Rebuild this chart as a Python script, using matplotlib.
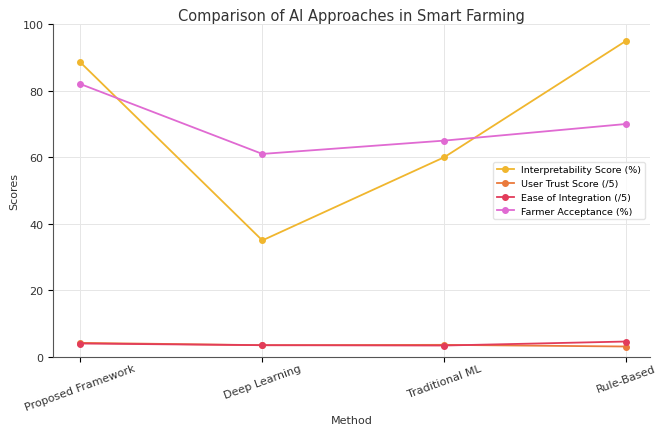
import matplotlib
matplotlib.use("Agg")
import matplotlib.pyplot as plt

methods = ["Proposed Framework", "Deep Learning", "Traditional ML", "Rule-Based"]
interpretability = [88.5, 35, 60, 95]
user_trust = [4.2, 3.5, 3.6, 3.1]
ease = [4.0, 3.5, 3.4, 4.6]
farmer = [82, 61, 65, 70]

fig = plt.figure(figsize=(6.65, 4.27), dpi=100)
ax = fig.add_axes([0.08, 0.162, 0.897, 0.779])
x = range(len(methods))
ax.plot(x, interpretability, marker='o', ms=4, lw=1.3, color='#f0b62e', label='Interpretability Score (%)')
ax.plot(x, user_trust, marker='o', ms=4, lw=1.3, color='#ea7a3c', label='User Trust Score (/5)')
ax.plot(x, ease, marker='o', ms=4, lw=1.3, color='#e23c5a', label='Ease of Integration (/5)')
ax.plot(x, farmer, marker='o', ms=4, lw=1.3, color='#e06ad2', label='Farmer Acceptance (%)')
ax.set_xticks(list(x))
ax.set_xticklabels(methods, rotation=20, ha='center', fontsize=8, color='#333333')
ax.tick_params(axis='x', pad=1)
ax.set_xlim(-0.15, 3.13)
ax.set_ylim(0, 100)
ax.tick_params(axis='y', labelsize=8, labelcolor='#333333')
ax.grid(True, color='#e6e6e6', lw=0.7)
ax.set_axisbelow(True)
for s in ['top', 'right']:
    ax.spines[s].set_visible(False)
for s in ['left', 'bottom']:
    ax.spines[s].set_color('#555555')
ax.set_xlabel('Method', fontsize=8, color='#333333', labelpad=2)
ax.set_ylabel('Scores', fontsize=8, color='#333333', labelpad=2)
ax.set_title('Comparison of AI Approaches in Smart Farming', fontsize=10.5, color='#333333', pad=3)
ax.legend(loc='center right', bbox_to_anchor=(1.0, 0.5), fontsize=6.8, frameon=True, edgecolor='#dddddd',
          handlelength=1.8)
fig.savefig('out.png', dpi=100)
